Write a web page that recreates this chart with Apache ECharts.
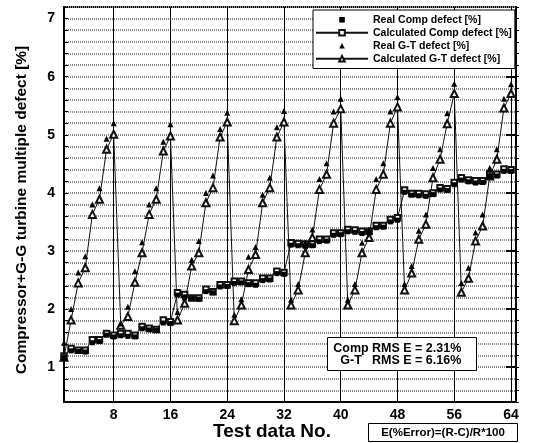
<!DOCTYPE html>
<html>
<head>
<meta charset="utf-8">
<script src="https://cdn.jsdelivr.net/npm/echarts@6/dist/echarts.min.js"></script>
<style>
  html, body { margin: 0; padding: 0; background: #fff; }
  #chart { width: 535px; height: 443px; }
</style>
</head>
<body>
<div id="chart"></div>
<script>
const FONT = "'Liberation Sans', Arial, sans-serif";

// test data numbers 1..64
const testNo = Array.from({ length: 64 }, (_, i) => i + 1);
const xTicks = [8, 16, 24, 32, 40, 48, 56, 64];

const compReal = [
  1.15, 1.28, 1.27, 1.26, 1.42, 1.44, 1.55, 1.52,
  1.54, 1.53, 1.52, 1.66, 1.64, 1.63, 1.76, 1.75,
  2.24, 2.21, 2.18, 2.17, 2.30, 2.28, 2.38, 2.39,
  2.44, 2.45, 2.42, 2.41, 2.49, 2.50, 2.61, 2.60,
  3.10, 3.09, 3.08, 3.09, 3.16, 3.17, 3.27, 3.28,
  3.33, 3.32, 3.30, 3.31, 3.40, 3.41, 3.50, 3.53,
  4.01, 3.96, 3.95, 3.94, 3.97, 4.05, 4.04, 4.14,
  4.22, 4.19, 4.17, 4.18, 4.28, 4.29, 4.37, 4.37
];
const compCalc = [
  1.19, 1.32, 1.29, 1.29, 1.47, 1.47, 1.58, 1.55,
  1.58, 1.58, 1.55, 1.70, 1.67, 1.65, 1.81, 1.78,
  2.28, 2.25, 2.19, 2.19, 2.34, 2.30, 2.42, 2.42,
  2.48, 2.48, 2.45, 2.45, 2.53, 2.53, 2.65, 2.63,
  3.14, 3.13, 3.12, 3.12, 3.20, 3.20, 3.31, 3.31,
  3.37, 3.36, 3.34, 3.34, 3.44, 3.44, 3.54, 3.57,
  4.05, 3.99, 3.99, 3.98, 4.00, 4.09, 4.07, 4.18,
  4.26, 4.22, 4.21, 4.21, 4.32, 4.32, 4.41, 4.40
];
const gtReal = [
  1.42, 2.00, 2.63, 2.91, 3.80, 4.08, 4.93, 5.20,
  1.75, 2.04, 2.65, 3.15, 3.80, 4.08, 4.88, 5.18,
  1.95, 2.20, 2.85, 3.17, 4.00, 4.30, 5.10, 5.38,
  1.90, 2.17, 2.90, 3.07, 3.97, 4.26, 5.13, 5.41,
  2.16, 2.43, 3.14, 3.37, 4.24, 4.51, 5.40, 5.62,
  2.16, 2.43, 3.14, 3.37, 4.24, 4.51, 5.40, 5.65,
  2.43, 2.74, 3.35, 3.63, 4.43, 4.75, 5.37, 5.88,
  2.45, 2.71, 3.32, 3.63, 4.43, 4.75, 5.62, 5.87
];
const gtCalc = [
  1.17, 1.81, 2.45, 2.71, 3.63, 3.89, 4.75, 5.01,
  1.72, 1.87, 2.46, 2.97, 3.63, 3.89, 4.72, 4.98,
  1.81, 2.10, 2.74, 2.97, 3.83, 4.09, 4.96, 5.22,
  1.80, 2.07, 2.68, 2.94, 3.83, 4.09, 4.96, 5.22,
  2.07, 2.33, 2.97, 3.23, 4.06, 4.32, 5.20, 5.45,
  2.07, 2.33, 2.97, 3.23, 4.06, 4.32, 5.20, 5.48,
  2.33, 2.62, 3.20, 3.46, 4.26, 4.58, 5.19, 5.71,
  2.29, 2.53, 3.17, 3.43, 4.29, 4.58, 5.46, 5.71
];

const pairs = (vals) => testNo.map((n, i) => [n, vals[i]]);

const chart = echarts.init(document.getElementById('chart'));

const yBase = { type: 'value', min: 0.4, max: 7.2, interval: 0.2 };
const NOLINE = { color: 'rgba(0,0,0,0)', width: 0, opacity: 0 };

const option = {
  animation: false,
  backgroundColor: '#fff',
  grid: {
    left: 64, right: 19, top: 7, bottom: 41,
    show: true, borderColor: '#000', borderWidth: 2,
    outerBoundsMode: 'none'
  },
  legend: {
    orient: 'vertical',
    left: 313, top: 10,
    itemWidth: 52, itemHeight: 7, itemGap: 1.5,
    padding: [4, 3, 4, 2],
    backgroundColor: '#fff', borderColor: '#000', borderWidth: 1,
    textStyle: { fontFamily: FONT, fontWeight: 'bold', fontSize: 10.5, color: '#000', lineHeight: 11.5 },
    data: [
      { name: 'Real Comp defect [%]', lineStyle: NOLINE },
      { name: 'Calculated Comp defect [%]' },
      { name: 'Real G-T defect [%]', lineStyle: NOLINE },
      { name: 'Calculated G-T defect [%]' }
    ]
  },
  xAxis: {
    type: 'value', min: 1, max: 64.7,
    axisLine: { lineStyle: { color: '#000', width: 2 } },
    axisTick: { customValues: xTicks, length: 0 },
    axisLabel: {
      customValues: xTicks, margin: 6,
      fontFamily: FONT, fontWeight: 'bold', fontSize: 14, color: '#000'
    },
    splitLine: { show: true, lineStyle: { color: '#000', width: 1 } }
  },
  yAxis: [
    Object.assign({}, yBase, {
      axisLine: { show: true, lineStyle: { color: '#000', width: 2 } },
      axisTick: { show: true, inside: true, length: 4, lineStyle: { color: '#000' } },
      axisLabel: {
        margin: 9, fontFamily: FONT, fontWeight: 'bold', fontSize: 14, color: '#000',
        formatter: (v) => (Math.abs(v - Math.round(v)) < 1e-6 ? String(Math.round(v)) : '')
      },
      splitLine: { show: true, lineStyle: { color: '#8c8c8c', width: 2, type: [1, 1] } }
    }),
    Object.assign({}, yBase, {
      axisLine: { show: false },
      axisTick: { show: true, inside: true, length: 10, customValues: [1, 2, 3, 4, 5, 6, 7], lineStyle: { color: '#000', width: 2 } },
      axisLabel: { show: false },
      splitLine: { show: false }
    }),
    Object.assign({}, yBase, {
      position: 'right',
      axisLine: { show: false },
      axisTick: { show: true, inside: false, length: 3, lineStyle: { color: '#000' } },
      axisLabel: { show: false },
      splitLine: { show: false }
    })
  ],
  series: [
    {
      name: 'Calculated Comp defect [%]', type: 'line', data: pairs(compCalc),
      symbol: 'emptyRect', symbolSize: 5.5,
      lineStyle: { color: '#111', width: 1 },
      itemStyle: { color: '#111', borderWidth: 1 }
    },
    {
      name: 'Calculated G-T defect [%]', type: 'line', data: pairs(gtCalc),
      symbol: 'emptyTriangle', symbolSize: 7,
      lineStyle: { color: '#111', width: 1 },
      itemStyle: { color: '#111', borderWidth: 1 }
    },
    {
      name: 'Real Comp defect [%]', type: 'line', data: pairs(compReal),
      symbol: 'rect', symbolSize: 5, lineStyle: NOLINE,
      itemStyle: { color: '#000', opacity: 1 }
    },
    {
      name: 'Real G-T defect [%]', type: 'line', data: pairs(gtReal),
      symbol: 'triangle', symbolSize: 6, lineStyle: NOLINE,
      itemStyle: { color: '#000', opacity: 1 }
    }
  ],
  graphic: [
    {
      type: 'text', x: 22, y: 210, rotation: Math.PI / 2, z: 100,
      style: {
        text: 'Compressor+G-G turbine multiple defect [%]',
        font: 'bold 15.5px ' + FONT, fill: '#000', align: 'center', verticalAlign: 'middle'
      }
    },
    {
      type: 'text', x: 272, y: 432, z: 100,
      style: { text: 'Test data No.', font: 'bold 19px ' + FONT, fill: '#000', align: 'center', verticalAlign: 'middle' }
    },
    {
      type: 'rect', z: 100, shape: { x: 368.5, y: 423.5, width: 149, height: 18 },
      style: { fill: '#fff', stroke: '#000', lineWidth: 1 }
    },
    {
      type: 'text', x: 443, y: 433, z: 101,
      style: { text: 'E(%Error)=(R-C)/R*100', font: 'bold 11.5px ' + FONT, fill: '#000', align: 'center', verticalAlign: 'middle' }
    },
    {
      type: 'rect', z: 100, shape: { x: 327.5, y: 337.5, width: 149, height: 33 },
      style: { fill: '#fff', stroke: '#000', lineWidth: 1 }
    },
    {
      type: 'text', x: 351, y: 349, z: 101,
      style: { text: 'Comp', font: 'bold 12.5px ' + FONT, fill: '#000', align: 'center', verticalAlign: 'middle' }
    },
    {
      type: 'text', x: 372, y: 349, z: 101,
      style: { text: 'RMS E = 2.31%', font: 'bold 12.5px ' + FONT, fill: '#000', align: 'left', verticalAlign: 'middle' }
    },
    {
      type: 'text', x: 351, y: 361, z: 101,
      style: { text: 'G-T', font: 'bold 12.5px ' + FONT, fill: '#000', align: 'center', verticalAlign: 'middle' }
    },
    {
      type: 'text', x: 372, y: 361, z: 101,
      style: { text: 'RMS E = 6.16%', font: 'bold 12.5px ' + FONT, fill: '#000', align: 'left', verticalAlign: 'middle' }
    }
  ]
};

chart.setOption(option);
</script>
</body>
</html>
